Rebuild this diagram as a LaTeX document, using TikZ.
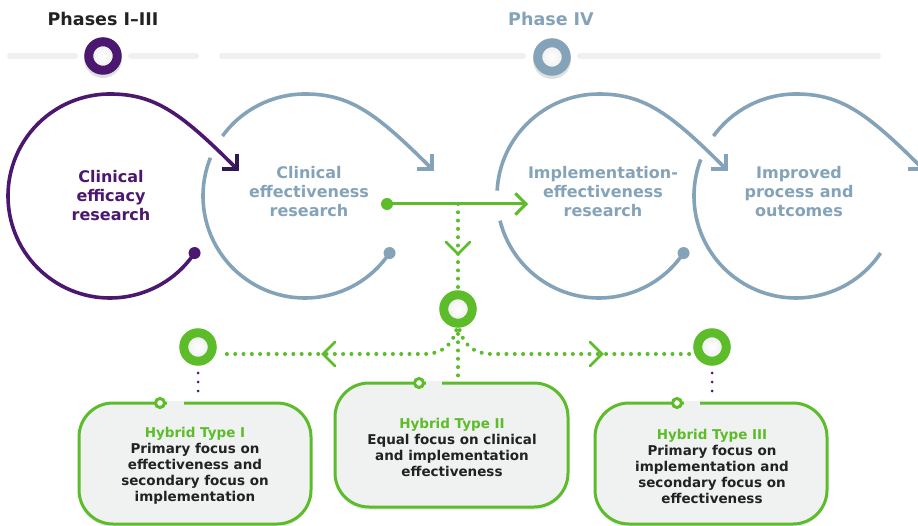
\documentclass[tikz,border=0pt]{standalone}
\usepackage{fontspec}
\setmainfont{DejaVu Sans}
\usetikzlibrary{arrows.meta,calc,shadows}
\definecolor{purp}{HTML}{4B176F}
\definecolor{purptip}{HTML}{2E1A52}
\definecolor{bgray}{HTML}{84A3B9}
\definecolor{grn}{HTML}{5CBC29}
\definecolor{tline}{HTML}{EFF0F0}
\definecolor{boxfill}{HTML}{F0F1F1}
\definecolor{txt}{HTML}{222222}
\tikzset{
  loopline/.style={line width=3.6pt},
  enddot/.style={circle,inner sep=0pt,minimum size=12pt},
  looptext/.style={align=center,font=\fontsize{16}{19}\selectfont\bfseries},
  ring/.style={circle,draw=#1,line width=9pt,shade,inner color=white,outer color=black!8,inner sep=0pt,minimum size=28.5pt},
  ringshadow/.style={fill=black,opacity=0.12},
  tl/.style={tline,line width=6pt,line cap=round},
  gdots/.style={grn,line width=4pt,line cap=round,dash pattern=on 0pt off 8.3pt},
  pdots/.style={purp,line width=3pt,line cap=round,dash pattern=on 0pt off 9pt},
  chev/.style={grn,line width=2.6pt,line cap=round,line join=miter},
  hbox/.style={draw=grn,line width=3pt,fill=boxfill,rounded corners=34pt,minimum width=232pt,minimum height=121pt,inner sep=0pt,
     drop shadow={opacity=0.15,shadow xshift=0pt,shadow yshift=-3pt}},
  boxtext/.style={align=center,font=\fontsize{13.5}{16}\selectfont\bfseries,text=txt},
  hdr/.style={font=\fontsize{17.5}{20}\selectfont\bfseries},
  minir/.style={circle,draw=grn,line width=3pt,fill=white,inner sep=0pt,minimum size=9pt},
  gapfill/.style={boxfill,line width=4.5pt},
}
\begin{document}
\begin{tikzpicture}[x=1pt,y=1pt]
\path[use as bounding box] (0,0) rectangle (918,-526);
\clip (0,0) rectangle (918,-526);

% timeline
\draw[tl] (10,-56) -- (75,-56);
\draw[tl] (131,-56) -- (196,-56);
\draw[tl] (222,-56) -- (523,-56);
\draw[tl] (580,-56) -- (878,-56);
\fill[ringshadow] (103,-59) circle (19);
\fill[ringshadow] (552,-60) circle (19);
\node[ring=purp] (p13) at (103,-56) {};
\node[ring=bgray] (p4) at (552,-57) {};
\node[hdr,text=txt] (h13) at (103,-19) {Phases I–III};
\node[hdr,text=bgray] (h4) at (551,-19) {Phase IV};

% centres of loops
\coordinate (c1) at (110,-196);
\coordinate (c2) at (305,-196);
\coordinate (c3) at (599,-196);
\coordinate (c4) at (796,-196);

% loop 1 (purple)
\node[enddot,fill=purp] (dot1) at ($(c1)+(-34:102)$) {};
\coordinate (t1) at (239,-171);
\draw[purp,loopline,-{Straight Barb[angle=90:15pt,color=purptip]}] (dot1.center)
  arc[start angle=-34,end angle=-270,radius=102]
  .. controls (155,-94) and (181,-113) .. (t1);
\node[looptext,text=purp] (l1) at (111,-196) {Clinical\\efficacy\\research};

% loop 2
\node[enddot,fill=bgray] (dot2) at ($(c2)+(-34:102)$) {};
\coordinate (t2) at (434,-171);
\draw[bgray,loopline] (dot2.center) arc[start angle=-34,end angle=-202,radius=102];
\draw[bgray,loopline,-{Straight Barb[angle=90:15pt]}] ($(c2)+(144:102)$)
  arc[start angle=144,end angle=90,radius=102]
  .. controls (350,-94) and (376,-113) .. (t2);
\node[looptext,text=bgray] (l2) at (309,-192) {Clinical\\effectiveness\\research};

% loop 3
\node[enddot,fill=bgray] (dot3) at ($(c3)+(-34:102)$) {};
\coordinate (t3) at (728,-171);
\draw[bgray,loopline] (dot3.center) arc[start angle=-34,end angle=-166,radius=102];
\draw[bgray,loopline,-{Straight Barb[angle=90:15pt]}] ($(c3)+(177:102)$)
  arc[start angle=177,end angle=90,radius=102]
  .. controls (644,-94) and (670,-113) .. (t3);
\node[looptext,text=bgray] (l3) at (603,-192) {Implementation-\\effectiveness\\research};

% loop 4
\coordinate (e4) at ($(c4)+(-34:102)$);
\coordinate (t4) at (925,-171);
\draw[bgray,loopline] (e4) arc[start angle=-34,end angle=-201,radius=102];
\draw[bgray,loopline,-{Straight Barb[angle=90:15pt]}] ($(c4)+(144:102)$)
  arc[start angle=144,end angle=90,radius=102]
  .. controls (841,-94) and (867,-113) .. (t4);
\node[looptext,text=bgray] (l4) at (799,-192) {Improved\\process and\\outcomes};

% green connector
\node[enddot,fill=grn] (gdot) at (387,-204) {};
\coordinate (garrow) at (528,-204);
\draw[grn,line width=3pt,-{Straight Barb[angle=90:15pt]}] (gdot.center) -- (garrow);
\coordinate (gj) at (458,-204);

% hybrid rings
\coordinate (ringCpos) at (458,-309);
\coordinate (lend) at (225,-354);
\coordinate (rend) at (692,-354);

% boxes
\node[hbox] (box1) at (195,-463.5) {};
\node[hbox,minimum width=233pt,minimum height=124pt] (box2) at (451.5,-445) {};
\node[hbox] (box3) at (711,-463.5) {};

% dotted connectors
\draw[gdots] (gj) -- (ringCpos);
\draw[gdots] (ringCpos) -- (ringCpos |- box2.north);
\draw[gdots] (458,-322) .. controls (455,-345) and (441,-354) .. (425,-354) -- (lend);
\draw[gdots] (458,-322) .. controls (461,-345) and (475,-354) .. (491,-354) -- (rend);
\node[ring=grn] (ringC) at (ringCpos) {};
\node[ring=grn] (ringL) at (198,-347) {};
\node[ring=grn] (ringR) at (712,-347) {};

% chevrons
\coordinate (vchev) at (458,-254);
\draw[chev] ($(vchev)+(-12,12)$) -- (vchev) -- ($(vchev)+(12,12)$);
\coordinate (lchev) at (323,-354);
\draw[chev] ($(lchev)+(12,12)$) -- (lchev) -- ($(lchev)+(12,-12)$);
\coordinate (rchev) at (602,-354);
\draw[chev] ($(rchev)+(-12,12)$) -- (rchev) -- ($(rchev)+(-12,-12)$);

% purple dots
\draw[pdots] (ringL.south |- 0,-373) -- (ringL.south |- 0,-392);
\draw[pdots] (ringR.south |- 0,-373) -- (ringR.south |- 0,-392);

% border gaps and mini rings
\draw[gapfill] (167,-403) -- (184,-403);
\node[minir] (m1) at (160,-403) {};
\draw[gapfill] (426,-383) -- (442,-383);
\node[minir] (m2) at (419,-383) {};
\draw[gapfill] (684,-403) -- (700,-403);
\node[minir] (m3) at (677,-403) {};

% box texts
\node[boxtext] (b1t) at (195,-466) {\textcolor{grn}{Hybrid Type I}\\Primary focus on\\effectiveness and\\secondary focus on\\implementation};
\node[boxtext] (b2t) at (452,-447.5) {\textcolor{grn}{Hybrid Type II}\\Equal focus on clinical\\and implementation\\effectiveness};
\node[boxtext] (b3t) at (712,-466) {\textcolor{grn}{Hybrid Type III}\\Primary focus on\\implementation and\\secondary focus on\\effectiveness};
\end{tikzpicture}
\end{document}
